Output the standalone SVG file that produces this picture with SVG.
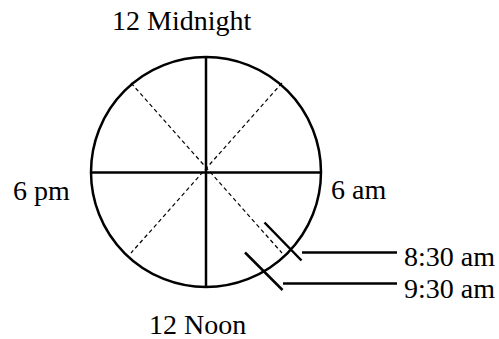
<svg xmlns="http://www.w3.org/2000/svg" width="499" height="339" viewBox="0 0 499 339">
<style>
.s{stroke:#000;stroke-width:2.5;fill:none}
.d{stroke:#000;stroke-width:1.2;stroke-dasharray:4 3;fill:none}
text{font-family:"Liberation Serif","Times New Roman",serif;font-size:28px;fill:#000}
</style>
<rect width="499" height="339" fill="#fff"/>
<g id="clock">
<circle class="s" cx="206" cy="172" r="115"/>
<line class="s" x1="91" y1="172.5" x2="321" y2="172.5"/>
<line class="s" x1="206" y1="57" x2="206" y2="287"/>
<line class="d" x1="131" y1="83" x2="282" y2="253"/>
<line class="d" x1="282" y1="83" x2="131" y2="253"/>
</g>
<g id="connectors">
<line class="s" x1="264.5" y1="222.5" x2="301.5" y2="260.5"/>
<line class="s" x1="245" y1="252.5" x2="282.5" y2="290"/>
<line class="s" x1="302" y1="252.5" x2="397" y2="252.5"/>
<line class="s" x1="283" y1="283.5" x2="397" y2="283.5"/>
</g>
<g id="labels">
<text x="112" y="30">12 Midnight</text>
<text x="13" y="200">6 pm</text>
<text x="331" y="199">6 am</text>
<text x="149" y="334">12 Noon</text>
<text x="404" y="266">8:30 am</text>
<text x="404" y="298">9:30 am</text>
</g>
</svg>
